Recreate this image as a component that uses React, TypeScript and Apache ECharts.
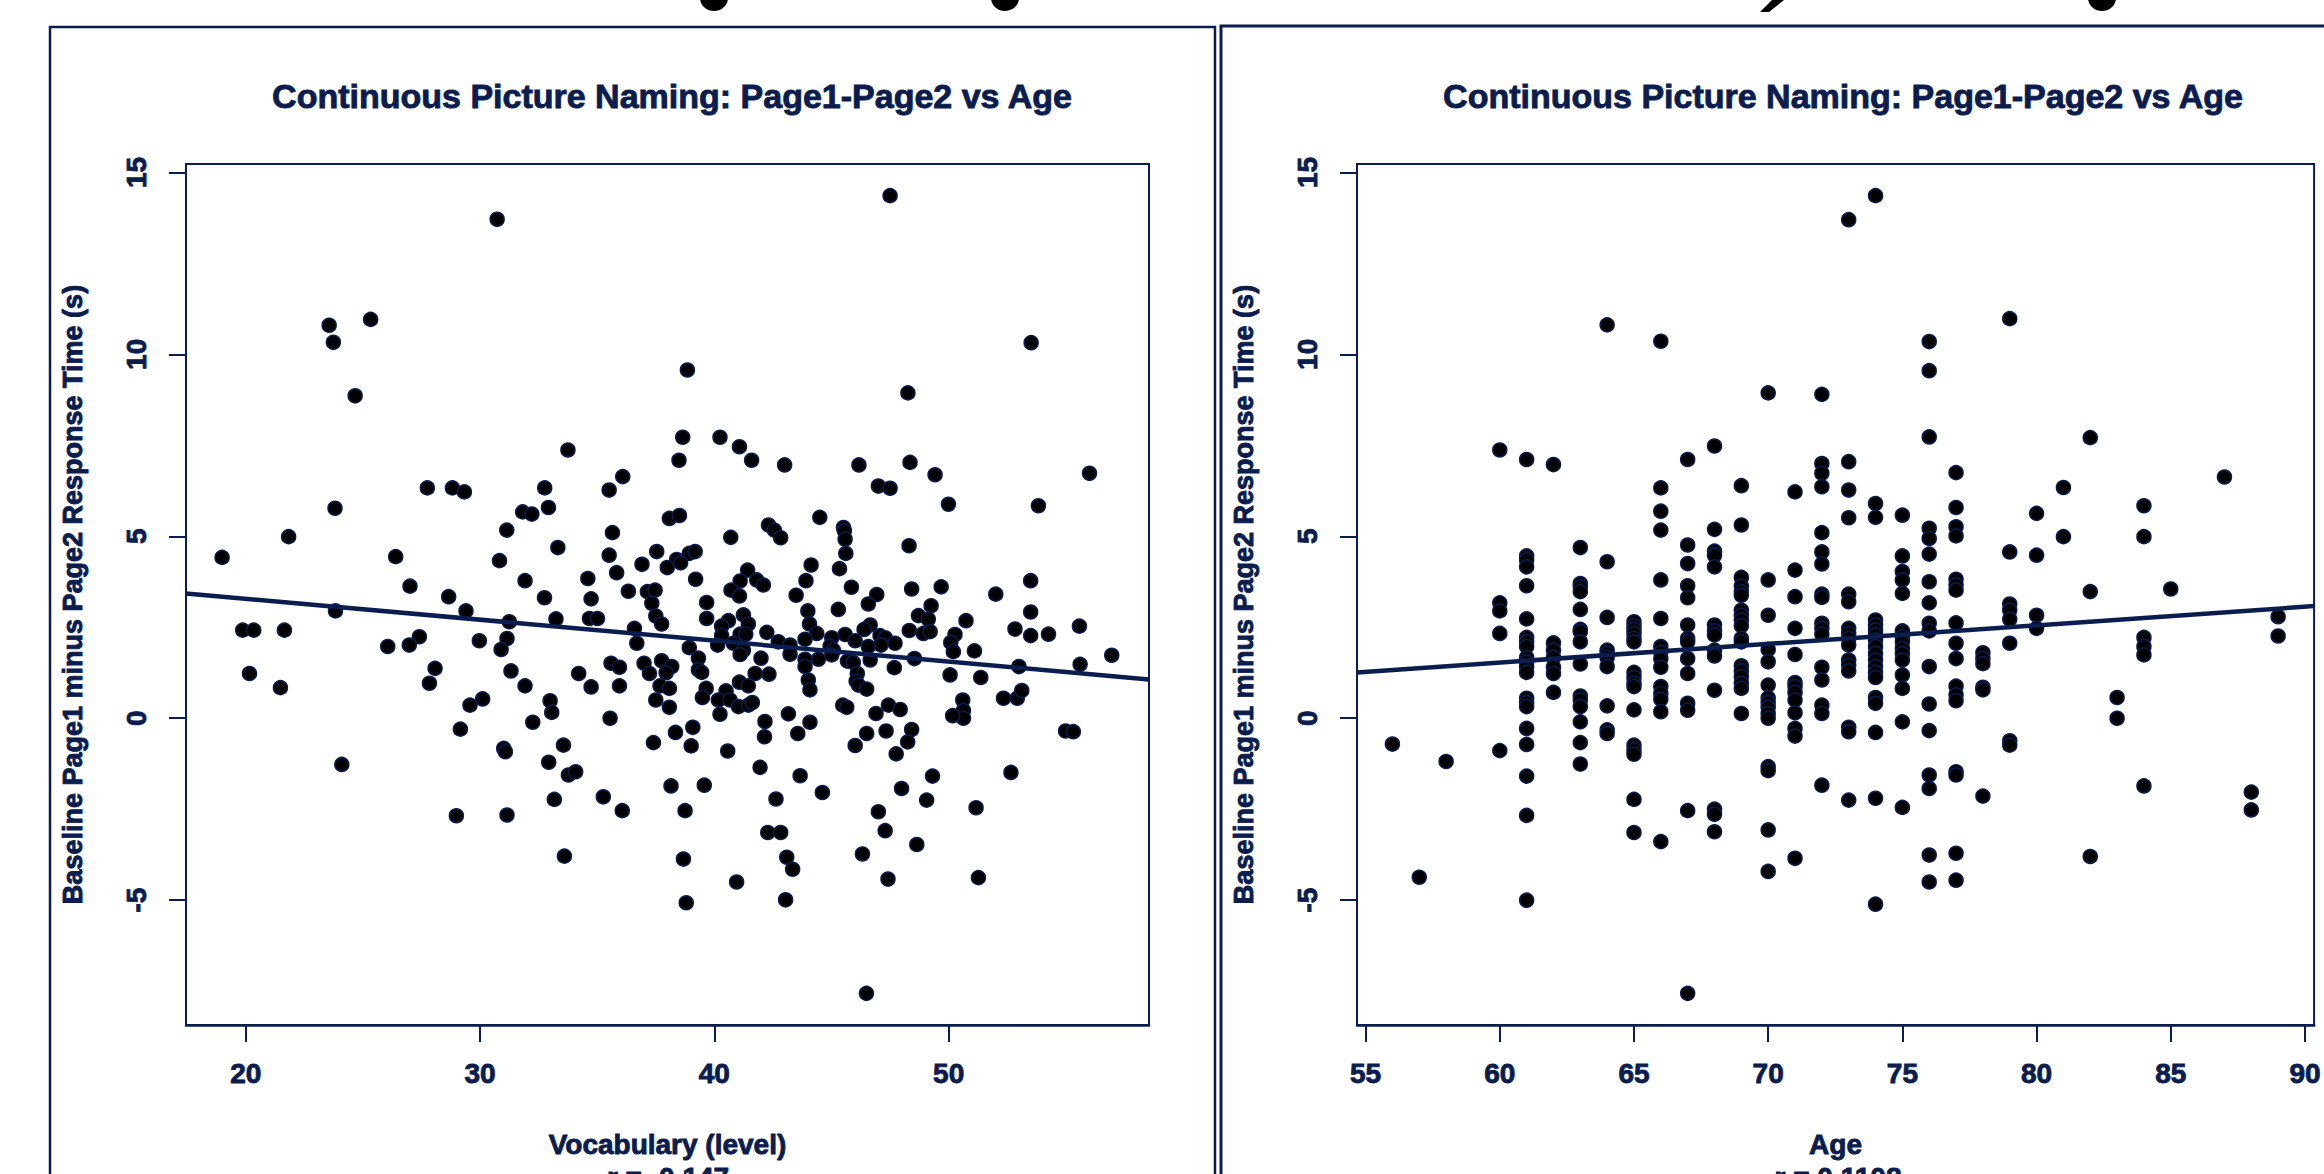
import React, { useEffect, useRef } from 'react';
import * as echarts from 'echarts';

const TITLE = 'Continuous Picture Naming: Page1-Page2 vs Age';
const Y_NAME = 'Baseline Page1 minus Page2 Response Time (s)';
const VOCAB_NAME = 'Vocabulary (level)';
const AGE_NAME = 'Age';
const VOCAB_R = 'r = -0.147';
const AGE_R = 'r = 0.1108';

const yTicks = [-5, 0, 5, 10, 15];
const vocabTicks = [20, 30, 40, 50];
const ageTicks = [55, 60, 65, 70, 75, 80, 85, 90];

const vocabRange = [17.45, 58.55];
const ageRange = [54.68, 90.34];
const yRange = [-8.43, 15.23];

const vocabFit = { intercept: 4.434, slope: -0.05755 };
const ageFit = { intercept: -1.539, slope: 0.05115 };

// Vocabulary (level), Page1 - Page2 difference (s)
const vocabPoints: number[][] = [
  [30.73,13.71],[23.56,10.80],[23.74,10.33],[25.33,10.96],[24.67,8.86],[38.85,9.57],[33.75,7.37],[38.65,7.72],[40.24,7.72],[41.07,7.46],[41.59,7.09],[38.49,7.09],[47.50,14.36],[53.52,10.32],[48.26,8.94],[43.00,6.96],[46.17,6.96],[48.35,7.03],[56.01,6.73],
  [27.75,6.33],[28.82,6.33],[29.33,6.22],[32.76,6.33],[23.81,5.77],[31.82,5.67],[32.21,5.61],[32.92,5.79],[21.83,4.99],[31.14,5.17],[18.99,4.42],[26.40,4.44],[30.83,4.33],[33.32,4.69],[31.92,3.78],[27.01,3.63],[28.66,3.34],[32.75,3.31],[29.40,2.95],[23.83,2.95],[33.24,2.73],[31.25,2.65],[19.87,2.42],[20.34,2.42],[21.65,2.42],[27.41,2.24],[26.98,2.01],[26.06,1.97],[29.97,2.13],[31.15,2.19],[30.90,1.89],[20.16,1.23],[21.48,0.84],[28.08,1.37],[27.84,0.96],[31.32,1.30],[31.92,0.89],[30.11,0.53],[29.57,0.36],[32.99,0.48],[33.06,0.16],[32.25,-0.11],[29.16,-0.30],[31.01,-0.83],[31.08,-0.92],[32.93,-1.21],[24.10,-1.27],[33.17,-2.23],[28.99,-2.68],[31.15,-2.66],
  [36.09,6.64],[35.51,6.27],[49.42,6.69],[47.00,6.38],[47.50,6.32],[49.99,5.88],[53.83,5.84],[38.08,5.49],[38.51,5.57],[44.50,5.52],[42.31,5.31],[42.56,5.17],[42.83,4.96],[45.51,5.24],[45.55,5.15],[45.58,4.92],[45.61,4.53],[35.65,5.10],[40.70,4.97],[48.31,4.74],[35.51,4.48],[37.54,4.58],[38.93,4.53],[39.18,4.58],[38.39,4.36],[38.56,4.27],[36.91,4.23],[37.99,4.14],[35.83,4.00],[41.42,4.07],[44.13,4.21],[45.34,4.11],[34.60,3.84],[39.20,3.82],[41.10,3.77],[41.81,3.80],[42.09,3.66],[43.91,3.78],[45.85,3.60],[48.42,3.55],[49.68,3.61],[53.50,3.78],
  [36.33,3.49],[37.14,3.48],[37.47,3.52],[37.33,3.16],[37.50,2.81],[37.75,2.59],[40.71,3.52],[41.07,3.36],[43.49,3.38],[52.01,3.41],[34.74,3.28],[39.67,3.18],[46.93,3.40],[46.57,3.14],[49.25,3.09],[45.29,2.99],[43.99,2.95],[53.50,2.92],[34.67,2.74],[35.01,2.74],[39.67,2.74],[41.24,2.84],[41.45,2.59],[40.60,2.68],[40.31,2.53],[48.71,2.82],[49.13,2.72],[50.74,2.68],[44.06,2.59],[55.58,2.53],[36.59,2.47],[46.65,2.56],[46.39,2.44],[48.32,2.41],[48.92,2.33],[49.21,2.38],[52.83,2.45],[53.50,2.27],[54.26,2.31],[42.24,2.36],[44.37,2.33],[50.27,2.30],[50.09,2.08],[50.20,1.83],
  [40.31,2.27],[41.10,2.31],[41.34,2.31],[47.07,2.27],[47.29,2.21],[47.11,2.01],[45.58,2.30],[46.01,2.13],[47.71,2.06],[36.69,2.06],[43.87,2.17],[42.73,2.10],[43.23,2.01],[43.23,1.76],[45.01,2.21],[44.94,1.98],[45.08,1.87],[45.01,1.74],[38.93,1.94],[40.14,2.01],[40.81,2.06],[41.24,1.87],[41.10,1.75],[46.57,1.97],[46.65,1.60],[51.10,1.85],[44.44,1.62],[43.87,1.62],[43.87,1.42],[48.54,1.64],[45.68,1.57],[45.93,1.53],[41.99,1.65],[39.32,1.65],[39.32,1.33],[39.46,1.26],[37.75,1.58],[38.18,1.42],[37.94,1.25],[35.59,1.51],[35.95,1.40],[37.00,1.51],[37.23,1.23],[53.00,1.42],[55.61,1.48],[47.68,1.39],[34.21,1.23],
  [41.74,1.23],[42.33,1.21],[46.10,1.23],[46.05,1.02],[46.15,0.91],[50.06,1.19],[51.37,1.12],[35.95,0.89],[34.74,0.86],[37.68,0.89],[38.08,0.82],[44.01,1.05],[44.08,0.78],[41.07,0.99],[41.45,0.89],[39.65,0.82],[39.49,0.57],[46.50,0.80],[40.50,0.75],[40.17,0.50],[40.67,0.50],[37.50,0.50],[41.03,0.32],[41.45,0.36],[41.62,0.43],[52.34,0.55],[52.93,0.55],[53.12,0.76],[50.60,0.50],[50.63,0.21],[50.63,0.00],[50.17,0.07],[38.08,0.30],[40.24,0.11],[43.16,0.12],[45.48,0.36],[45.65,0.30],[46.90,0.13],[47.43,0.36],[47.93,0.24],[35.55,0.00],[44.08,-0.11],[42.16,-0.09],
  [54.99,-0.35],[55.32,-0.37],[39.08,-0.25],[38.34,-0.39],[43.56,-0.42],[46.50,-0.42],[47.33,-0.35],[48.42,-0.31],[48.25,-0.65],[42.14,-0.51],[37.40,-0.67],[39.01,-0.76],[33.56,-0.74],[46.01,-0.75],[47.76,-0.98],[40.57,-0.90],[41.95,-1.35],[33.77,-1.56],[34.08,-1.47],[43.66,-1.58],[49.31,-1.59],[52.66,-1.49],[38.15,-1.86],[39.57,-1.84],[47.99,-1.93],[35.26,-2.16],[42.63,-2.22],[44.61,-2.04],[49.06,-2.25],[36.07,-2.54],[38.75,-2.54],[47.00,-2.57],[51.17,-2.46],[47.29,-3.09],[42.28,-3.14],[42.83,-3.14],[48.64,-3.47],[33.60,-3.79],[38.68,-3.87],[43.09,-3.82],[46.32,-3.73],[43.34,-4.15],
  [38.80,-5.07],[40.95,-4.50],[43.04,-4.99],[47.41,-4.42],[51.27,-4.38],[46.49,-7.56],[56.96,1.73]
];

// Age (years) -> Page1 - Page2 differences (s)
const ageGroups: [number, number[]][] = [
  [56, [-0.71]],
  [57, [-4.37]],
  [58, [-1.19]],
  [60, [7.37, 3.17, 2.95, 2.33, -0.89]],
  [61, [7.11, 4.46, 4.35, 4.16, 3.64, 2.73, 2.22, 2.10, 1.97, 1.67, 1.55, 1.42, 1.26, 0.55, 0.43, 0.32, -0.28, -0.72, -1.59, -2.67, -5.00]],
  [62, [6.97, 2.07, 1.87, 1.67, 1.40, 1.23, 0.71]],
  [63, [4.69, 3.70, 3.61, 3.48, 2.99, 2.44, 2.38, 2.10, 1.49, 0.61, 0.50, 0.32, -0.10, -0.67, -1.26]],
  [64, [10.81, 4.30, 2.77, 1.87, 1.78, 1.67, 1.42, 0.34, -0.32, -0.42]],
  [65, [2.65, 2.54, 2.44, 2.33, 2.19, 2.10, 1.26, 1.12, 0.96, 0.87, 0.23, -0.74, -0.87, -0.99, -2.23, -3.14]],
  [66, [10.36, 6.33, 5.69, 5.17, 3.80, 2.74, 1.97, 1.81, 1.64, 1.40, 0.87, 0.68, 0.52, 0.18, -3.39]],
  [67, [7.11, 4.76, 4.25, 3.64, 3.31, 2.56, 2.19, 2.10, 1.64, 1.23, 0.41, 0.22, -2.54, -7.56]],
  [68, [7.48, 5.19, 4.59, 4.48, 4.16, 2.56, 2.40, 2.29, 1.87, 1.71, 0.77, -2.50, -2.64, -3.12]],
  [69, [6.39, 5.31, 3.87, 3.63, 3.48, 3.38, 2.97, 2.83, 2.70, 2.54, 2.19, 2.10, 1.44, 1.30, 1.14, 0.96, 0.82, 0.13]],
  [70, [8.94, 3.80, 2.83, 1.89, 1.55, 0.91, 0.56, 0.43, 0.30, 0.13, 0.00, -1.33, -1.44, -3.07, -4.21]],
  [71, [6.22, 4.07, 3.34, 2.47, 1.75, 0.98, 0.87, 0.71, 0.50, 0.15, -0.28, -0.49, -3.85]],
  [72, [8.90, 7.00, 6.73, 6.36, 5.10, 4.57, 4.24, 3.41, 3.32, 2.61, 2.47, 2.31, 1.40, 1.05, 0.36, 0.13, -1.84]],
  [73, [13.70, 7.05, 6.27, 5.51, 3.41, 3.20, 2.47, 2.33, 2.19, 2.01, 1.60, 1.46, 1.30, -0.25, -0.37, -2.25]],
  [74, [14.36, 5.90, 5.52, 2.70, 2.56, 2.42, 2.29, 2.15, 1.97, 1.78, 1.60, 1.42, 1.26, 1.12, 0.57, 0.41, -0.39, -2.20, -5.11]],
  [75, [5.58, 4.46, 4.03, 3.80, 3.43, 2.40, 2.24, 2.10, 1.92, 1.78, 1.60, 1.19, 0.82, -0.10, -2.45]],
  [76, [10.35, 9.55, 7.73, 5.22, 4.94, 4.51, 3.75, 3.17, 2.61, 2.40, 1.42, 0.39, -0.34, -1.56, -1.93, -3.76, -4.50]],
  [77, [6.75, 5.79, 5.26, 5.01, 3.82, 3.66, 3.52, 2.62, 2.06, 1.64, 0.88, 0.64, 0.48, -1.47, -1.56, -3.71, -4.45]],
  [78, [1.80, 1.64, 1.50, 0.85, 0.78, -2.14]],
  [79, [10.98, 4.57, 3.14, 2.97, 2.72, 2.06, -0.62, -0.74]],
  [80, [5.63, 4.48, 2.83, 2.47]],
  [81, [6.34, 4.99]],
  [82, [7.71, 3.48, -3.80]],
  [83, [0.57, 0.00]],
  [84, [5.84, 4.99, 2.22, 1.97, 1.74, -1.86]],
  [85, [3.55]],
  [87, [6.63]],
  [88, [-2.03, -2.52]],
  [89, [2.79, 2.26]]
];

const NAVY = '#0b1d4f';
const FONT = '"Liberation Sans", Arial, Helvetica, sans-serif';

export default function App() {
  const ref = useRef<HTMLDivElement>(null);

  useEffect(() => {
    if (!ref.current) return;
    const chart = echarts.init(ref.current, undefined, { renderer: 'svg' });

    const ageData = ageGroups.flatMap(([a, ys]) => ys.map((y) => [a, y]));
    const fitLine = (fit: { intercept: number; slope: number }, range: number[]) =>
      range.map((x) => [x, fit.intercept + fit.slope * x]);

    const textStyle = {
      color: NAVY,
      fontFamily: FONT,
      fontWeight: 'bold' as const,
      textBorderColor: NAVY,
      textBorderWidth: 0.9,
    };

    const makeX = (gridIndex: number, range: number[], ticks: number[], name: string) => ({
      type: 'value' as const,
      gridIndex,
      min: range[0],
      max: range[1],
      name,
      nameLocation: 'middle' as const,
      nameGap: 105,
      nameTextStyle: { ...textStyle, fontSize: 28 },
      splitLine: { show: false },
      axisLine: { show: true, onZero: false, lineStyle: { color: NAVY, width: 2.5 } },
      axisTick: { show: true, inside: false, length: 17, customValues: ticks, lineStyle: { color: NAVY, width: 2 } },
      axisLabel: { show: true, customValues: ticks, margin: 34, ...textStyle, fontSize: 28 },
    });

    const makeY = (gridIndex: number) => ({
      type: 'value' as const,
      gridIndex,
      min: yRange[0],
      max: yRange[1],
      name: Y_NAME,
      nameLocation: 'middle' as const,
      nameRotate: 90,
      nameGap: 100,
      nameTextStyle: { ...textStyle, fontSize: 27 },
      splitLine: { show: false },
      axisLine: { show: true, onZero: false, lineStyle: { color: NAVY, width: 2 } },
      axisTick: { show: true, inside: false, length: 17, customValues: yTicks, lineStyle: { color: NAVY, width: 2 } },
      axisLabel: { show: true, customValues: yTicks, rotate: 90, margin: 36, ...textStyle, fontSize: 28 },
    });

    const gridCommon = { top: 164, width: 963, height: 861, show: true, borderColor: NAVY, borderWidth: 2, containLabel: false };

    const scatterStyle = {
      type: 'scatter' as const,
      symbol: 'circle',
      symbolSize: 14,
      itemStyle: { color: '#000000', borderColor: NAVY, borderWidth: 1.5, opacity: 1 },
      z: 2,
    };
    const lineStyle = {
      type: 'line' as const,
      symbol: 'none',
      lineStyle: { color: NAVY, width: 4.5 },
      z: 3,
    };

    const rStyle = (text: string) => ({
      text,
      fill: NAVY,
      stroke: NAVY,
      lineWidth: 0.9,
      font: 'bold 28px ' + FONT,
      align: 'center',
      verticalAlign: 'top',
      textAlign: 'center',
      textVerticalAlign: 'top',
    });

    chart.setOption({
      animation: false,
      backgroundColor: '#ffffff',
      title: [
        { text: TITLE, left: 667, top: 74, textAlign: 'center', textStyle: { ...textStyle, fontSize: 34 } },
        { text: TITLE, left: 1838, top: 74, textAlign: 'center', textStyle: { ...textStyle, fontSize: 34 } },
      ],
      grid: [
        { ...gridCommon, left: 186 },
        { ...gridCommon, left: 1357 },
      ],
      xAxis: [makeX(0, vocabRange, vocabTicks, VOCAB_NAME), makeX(1, ageRange, ageTicks, AGE_NAME)],
      yAxis: [makeY(0), makeY(1)],
      series: [
        { ...scatterStyle, xAxisIndex: 0, yAxisIndex: 0, data: vocabPoints },
        { ...lineStyle, xAxisIndex: 0, yAxisIndex: 0, data: fitLine(vocabFit, vocabRange) },
        { ...scatterStyle, xAxisIndex: 1, yAxisIndex: 1, data: ageData },
        { ...lineStyle, xAxisIndex: 1, yAxisIndex: 1, data: fitLine(ageFit, ageRange) },
      ],
      graphic: [
        { type: 'rect', shape: { x: 50, y: 27, width: 1165, height: 1300 }, style: { fill: 'none', stroke: NAVY, lineWidth: 2.5 }, silent: true },
        { type: 'rect', shape: { x: 1221, y: 26, width: 1300, height: 1300 }, style: { fill: 'none', stroke: NAVY, lineWidth: 3 }, silent: true },
        { type: 'ellipse', shape: { cx: 714, cy: -2, rx: 14, ry: 13 }, style: { fill: '#000' }, silent: true },
        { type: 'ellipse', shape: { cx: 1005, cy: -2, rx: 14, ry: 13 }, style: { fill: '#000' }, silent: true },
        { type: 'polygon', shape: { points: [[1772, 0], [1784, 0], [1769, 12], [1760, 12]] }, style: { fill: '#000' }, silent: true },
        { type: 'ellipse', shape: { cx: 2102, cy: -2, rx: 14, ry: 13 }, style: { fill: '#000' }, silent: true },
        { type: 'text', x: 668, y: 1163, style: rStyle(VOCAB_R) },
        { type: 'text', x: 1838, y: 1163, style: rStyle(AGE_R) },
      ],
    });

    return () => chart.dispose();
  }, []);

  return (
    <div
      ref={ref}
      style={{ position: 'absolute', left: 0, top: 0, width: 2324, height: 1174, background: '#fff' }}
    />
  );
}
